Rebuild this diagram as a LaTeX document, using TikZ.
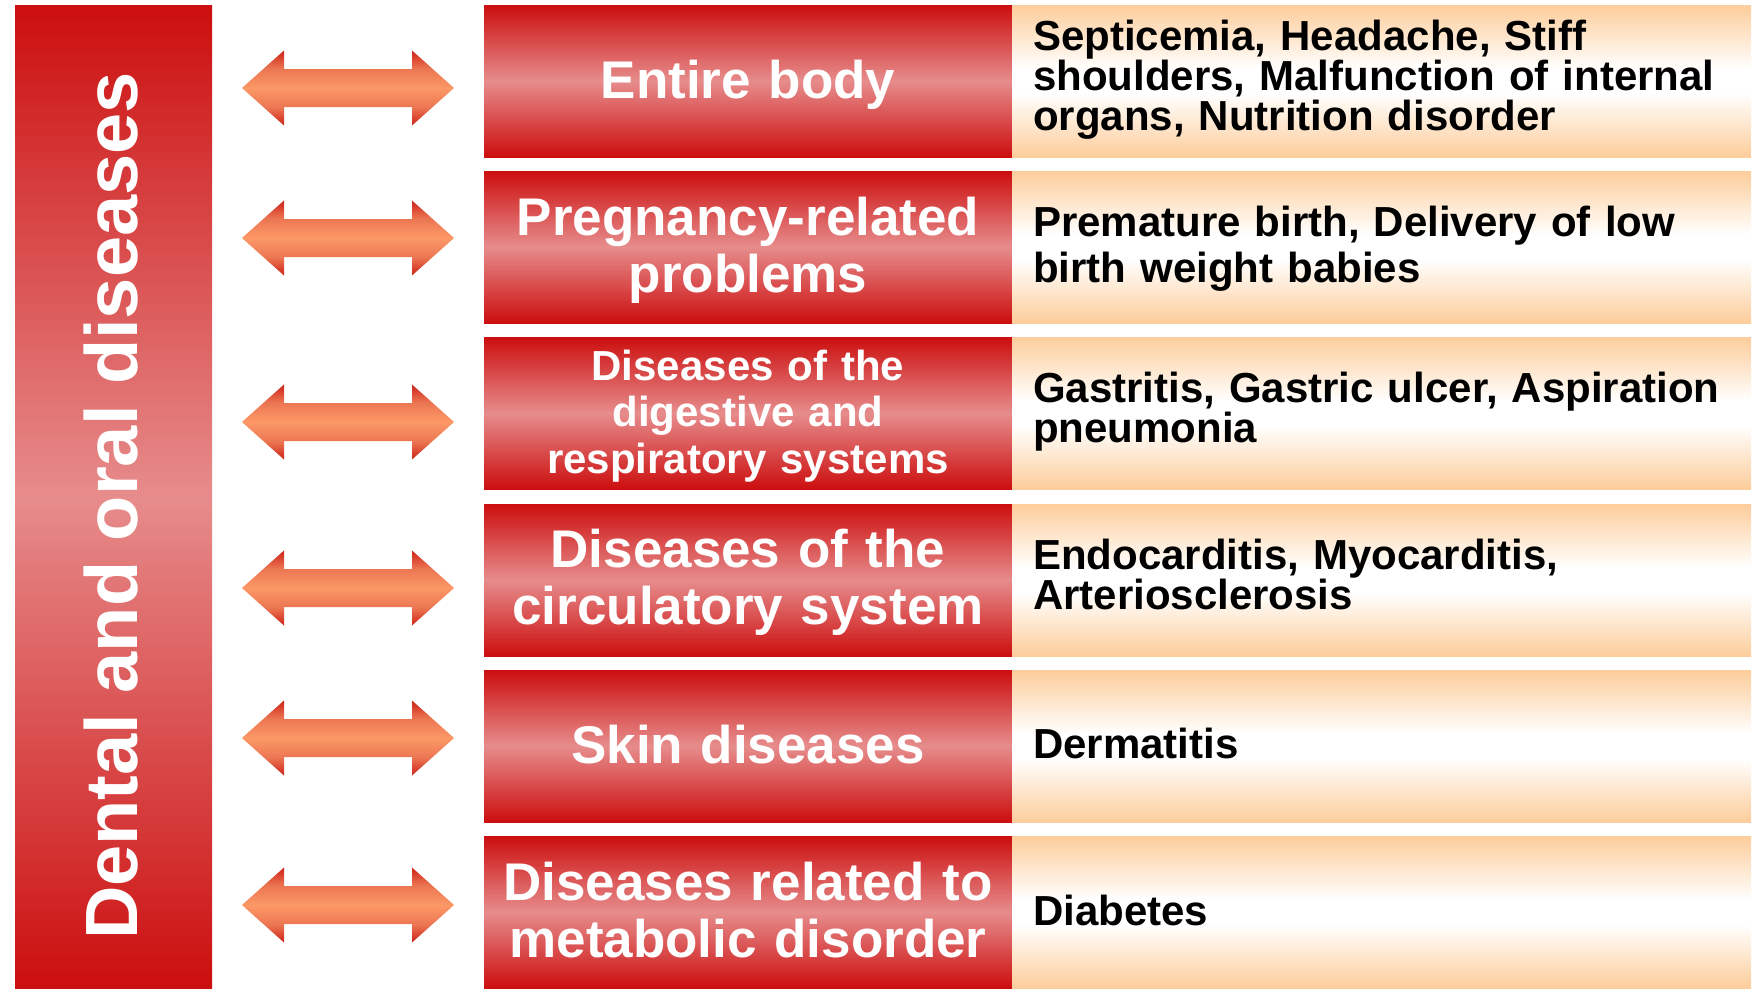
\documentclass[tikz,border=0pt]{standalone}
\usepackage{fontspec}
\setmainfont{Liberation Sans}
\definecolor{bred}{RGB}{204,14,14}
\definecolor{bpink}{RGB}{231,140,140}
\definecolor{peach}{RGB}{253,205,155}
\definecolor{adark}{RGB}{205,35,25}
\definecolor{aedge}{RGB}{236,118,82}
\definecolor{aor}{RGB}{252,152,102}
\pgfdeclareverticalshading{peachband}{100bp}{color(0bp)=(peach); color(25bp)=(peach); color(46bp)=(white); color(54bp)=(white); color(75bp)=(peach); color(100bp)=(peach)}
\pgfdeclareverticalshading{arrowband}{100bp}{color(0bp)=(adark); color(25bp)=(adark); color(37bp)=(aedge); color(50bp)=(aor); color(63bp)=(aedge); color(75bp)=(adark); color(100bp)=(adark)}
\tikzset{
  redbox/.style={rectangle, inner sep=0pt, outer sep=0pt, anchor=north west,
    minimum width=528pt, minimum height=152pt,
    top color=bred, bottom color=bred, middle color=bpink},
  peachbox/.style={rectangle, inner sep=0pt, outer sep=0pt, anchor=north west,
    minimum width=739pt, minimum height=152pt, shade, shading=peachband},
  midtext/.style={text=white, inner sep=0pt, anchor=base, align=center, text width=520pt,
    font={\bfseries\fontsize{53}{57.5}\selectfont\lineskiplimit=-100pt}},
  smalltext/.style={midtext, font={\bfseries\fontsize{42}{46.5}\selectfont\lineskiplimit=-100pt}},
  sidetext/.style={text=black, inner sep=0pt, anchor=base west, align=left, text width=715pt,
    font={\bfseries\fontsize{42}{40}\selectfont\lineskiplimit=-100pt}},
  widetext/.style={sidetext, font={\bfseries\fontsize{42}{46}\selectfont\lineskiplimit=-100pt}},
  dblarrow/.pic={
    \shade[shading=arrowband] (-106,0) -- (-64,-37.5) -- (-64,-19) -- (64,-19) -- (64,-37.5)
      -- (106,0) -- (64,37.5) -- (64,19) -- (-64,19) -- (-64,37.5) -- cycle;
  }
}
\begin{document}
\begin{tikzpicture}[x=1pt, y=-1pt]
\useasboundingbox (0,0) rectangle (1753,993);
% left bar
\node[rectangle, inner sep=0pt, anchor=north west, minimum width=197pt, minimum height=983pt,
  top color=bred, bottom color=bred, middle color=bpink] (bar) at (15,5) {};
\node[rotate=90, anchor=base, text=white, inner sep=0pt,
  font=\bfseries\fontsize{74}{80}\selectfont] (title) at (137,506) {Dental and oral diseases};
% arrows
\pic at (348,88) {dblarrow};
\pic at (348,238) {dblarrow};
\pic at (348,422) {dblarrow};
\pic at (348,588) {dblarrow};
\pic at (348,738) {dblarrow};
\pic at (348,905) {dblarrow};
% middle boxes
\node[redbox] (m1) at (484,5) {};
\node[redbox] (m2) at (484,171) {};
\node[redbox] (m3) at (484,337) {};
\node[redbox] (m4) at (484,504) {};
\node[redbox] (m5) at (484,670) {};
\node[redbox] (m6) at (484,836) {};
% right boxes
\node[peachbox] (r1) at (1012,5) {};
\node[peachbox] (r2) at (1012,171) {};
\node[peachbox] (r3) at (1012,337) {};
\node[peachbox] (r4) at (1012,504) {};
\node[peachbox] (r5) at (1012,670) {};
\node[peachbox] (r6) at (1012,836) {};
% middle texts
\node[midtext] (mt1) at (748,98) {Entire body};
\node[midtext] (mt2) at (748,235) {Pregnancy-related\\problems};
\node[smalltext] (mt3) at (748,380) {Diseases of the\\digestive and\\respiratory systems};
\node[midtext] (mt4) at (748,567) {Diseases of the\\circulatory system};
\node[midtext] (mt5) at (748,763) {Skin diseases};
\node[midtext] (mt6) at (748,900) {Diseases related to\\metabolic disorder};
% right texts
\node[sidetext] (rt1) at (1033,50) {Septicemia, Headache, Stiff\\shoulders, Malfunction of internal\\organs, Nutrition disorder};
\node[widetext] (rt2) at (1033,236) {Premature birth, Delivery of low\\birth weight babies};
\node[sidetext] (rt3) at (1033,402) {Gastritis, Gastric ulcer, Aspiration\\pneumonia};
\node[sidetext] (rt4) at (1033,569) {Endocarditis, Myocarditis,\\Arteriosclerosis};
\node[sidetext] (rt5) at (1033,758) {Dermatitis};
\node[sidetext] (rt6) at (1033,925) {Diabetes};
\end{tikzpicture}
\end{document}
